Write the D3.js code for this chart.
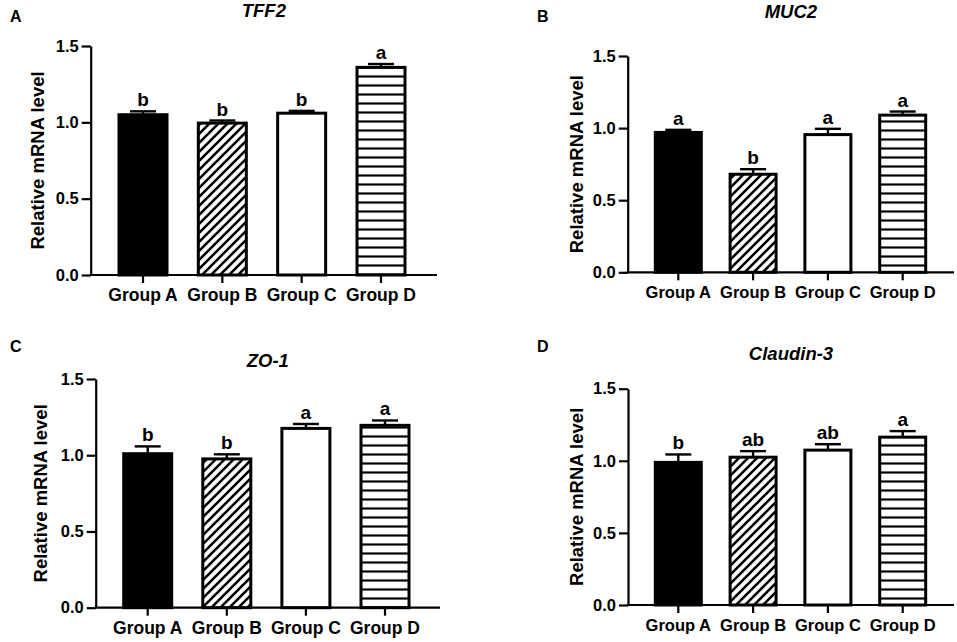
<!DOCTYPE html>
<html>
<head>
<meta charset="utf-8">
<script src="https://cdn.jsdelivr.net/npm/d3@7"></script>
<style>
  body { margin: 0; background: #fff; }
  svg { display: block; font-family: "Liberation Sans", Arial, sans-serif; }
  .tick text { font-weight: bold; fill: #000; }
</style>
</head>
<body>
<svg id="chart" width="957" height="642"></svg>
<script>
// categories and tick values
const groups = ["Group A", "Group B", "Group C", "Group D"];
const yTicks = [0, 0.5, 1.0, 1.5];

// TFF2
const tff2Mean = [1.05, 0.995, 1.06, 1.36];
const tff2Err = [0.022, 0.017, 0.015, 0.022];
const tff2Sig = ["b", "b", "b", "a"];

// MUC2
const muc2Mean = [0.97, 0.68, 0.955, 1.09];
const muc2Err = [0.018, 0.035, 0.04, 0.025];
const muc2Sig = ["a", "b", "a", "a"];

// ZO-1
const zo1Mean = [1.01, 0.976, 1.176, 1.196];
const zo1Err = [0.048, 0.03, 0.029, 0.032];
const zo1Sig = ["b", "b", "a", "a"];

// Claudin-3
const cld3Mean = [0.989, 1.025, 1.074, 1.164];
const cld3Err = [0.055, 0.042, 0.041, 0.042];
const cld3Sig = ["b", "ab", "ab", "a"];

const svg = d3.select("#chart");

// patterns for group B (diagonal) and group D (horizontal stripes)
const defs = svg.append("defs");
defs.append("pattern")
    .attr("id", "diag")
    .attr("patternUnits", "userSpaceOnUse")
    .attr("width", 9).attr("height", 9)
  .append("path")
    .attr("d", "M0,9 L9,0 M-3,3 L3,-3 M6,12 L12,6")
    .attr("stroke", "#000")
    .attr("stroke-width", 2.6);
const hp = defs.append("pattern")
    .attr("id", "hstripe")
    .attr("patternUnits", "userSpaceOnUse")
    .attr("width", 9).attr("height", 9);
hp.append("rect").attr("width", 9).attr("height", 9).attr("fill", "#fff");
hp.append("line")
    .attr("x1", 0).attr("x2", 9).attr("y1", 4.5).attr("y2", 4.5)
    .attr("stroke", "#000").attr("stroke-width", 2.2);

const fills = ["#000", "url(#diag)", "#fff", "url(#hstripe)"];

// panel layouts
const panels = [
  {letter: "A", title: "TFF2", mean: tff2Mean, err: tff2Err, sig: tff2Sig,
   x0: 90.7, x1: 437, yTop: 46, yBot: 275, c0: 143, c3: 381, barW: 51,
   lx: 10, ly: 21.5, ty: 17, yt: 47, fs: 17.5},
  {letter: "B", title: "MUC2", mean: muc2Mean, err: muc2Err, sig: muc2Sig,
   x0: 627.7, x1: 954, yTop: 56, yBot: 272.3, c0: 678.3, c3: 902.7, barW: 49,
   lx: 537, ly: 21.5, ty: 17.5, yt: 45, fs: 16.5},
  {letter: "C", title: "ZO-1", mean: zo1Mean, err: zo1Err, sig: zo1Sig,
   x0: 95.7, x1: 440, yTop: 379, yBot: 607.7, c0: 147.7, c3: 385, barW: 51,
   lx: 10, ly: 352, ty: 367, yt: 49, fs: 17.5},
  {letter: "D", title: "Claudin-3", mean: cld3Mean, err: cld3Err, sig: cld3Sig,
   x0: 628, x1: 954, yTop: 388.7, yBot: 605, c0: 678.3, c3: 902.7, barW: 49,
   lx: 537, ly: 352, ty: 359.5, yt: 45, fs: 16.5}
];

panels.forEach(function(p) {
  const g = svg.append("g");
  const step = (p.c3 - p.c0) / 3;

  const x = d3.scaleBand()
      .domain(groups)
      .range([p.c0 - step / 2, p.c3 + step / 2]);
  const y = d3.scaleLinear()
      .domain([0, 1.5])
      .range([p.yBot, p.yTop]);

  const data = groups.map(function(gr, i) {
    return {group: gr, mean: p.mean[i], err: p.err[i], sig: p.sig[i], fill: fills[i]};
  });

  // bars
  g.selectAll("rect.bar")
    .data(data).enter()
    .append("rect")
      .attr("class", "bar")
      .attr("x", d => x(d.group) + x.bandwidth() / 2 - p.barW / 2 + 1.5)
      .attr("width", p.barW - 3)
      .attr("y", d => y(d.mean))
      .attr("height", d => y(0) - y(d.mean))
      .attr("fill", d => d.fill)
      .attr("stroke", "#000")
      .attr("stroke-width", 3);

  // error bars (upper only)
  const eb = g.selectAll("g.err").data(data).enter().append("g");
  eb.append("line")
      .attr("x1", d => x(d.group) + x.bandwidth() / 2)
      .attr("x2", d => x(d.group) + x.bandwidth() / 2)
      .attr("y1", d => y(d.mean))
      .attr("y2", d => y(d.mean + d.err))
      .attr("stroke", "#000").attr("stroke-width", 2.4);
  eb.append("line")
      .attr("x1", d => x(d.group) + x.bandwidth() / 2 - 13)
      .attr("x2", d => x(d.group) + x.bandwidth() / 2 + 13)
      .attr("y1", d => y(d.mean + d.err))
      .attr("y2", d => y(d.mean + d.err))
      .attr("stroke", "#000").attr("stroke-width", 2.4);

  // significance letters
  g.selectAll("text.sig")
    .data(data).enter()
    .append("text")
      .attr("x", d => x(d.group) + x.bandwidth() / 2)
      .attr("y", d => y(d.mean + d.err) - 5)
      .attr("text-anchor", "middle")
      .attr("font-weight", "bold")
      .attr("font-size", 19)
      .text(d => d.sig);

  // y axis
  const ya = g.append("g")
      .attr("transform", "translate(" + p.x0 + ",0)")
      .call(d3.axisLeft(y).tickValues(yTicks).tickFormat(d3.format(".1f"))
              .tickSize(9).tickPadding(3).tickSizeOuter(0));
  ya.selectAll("text").attr("font-size", 16.5).attr("font-family", "Liberation Sans, Arial, sans-serif");
  ya.selectAll("line").attr("stroke-width", 2.2);
  ya.select(".domain").attr("stroke-width", 2.2);

  // x axis
  const xa = g.append("g")
      .attr("transform", "translate(0," + p.yBot + ")")
      .call(d3.axisBottom(x).tickSize(8).tickPadding(6).tickSizeOuter(0));
  xa.select(".domain").remove();
  xa.selectAll("text").attr("font-size", p.fs).attr("font-family", "Liberation Sans, Arial, sans-serif");
  xa.selectAll("line").attr("stroke-width", 2.2);
  g.append("line")
      .attr("x1", p.x0 - 1).attr("x2", p.x1)
      .attr("y1", p.yBot).attr("y2", p.yBot)
      .attr("stroke", "#000").attr("stroke-width", 2.2);

  // y axis title
  g.append("text")
      .attr("transform", "translate(" + (p.x0 - p.yt) + "," + ((p.yTop + p.yBot) / 2) + ") rotate(-90)")
      .attr("text-anchor", "middle")
      .attr("font-weight", "bold")
      .attr("font-size", 18.5)
      .text("Relative mRNA level");

  // panel title
  g.append("text")
      .attr("x", (p.x0 + p.x1) / 2)
      .attr("y", p.ty)
      .attr("text-anchor", "middle")
      .attr("font-weight", "bold")
      .attr("font-style", "italic")
      .attr("font-size", 18.5)
      .text(p.title);

  // panel letter
  g.append("text")
      .attr("x", p.lx)
      .attr("y", p.ly)
      .attr("font-weight", "bold")
      .attr("font-size", 16)
      .text(p.letter);
});
</script>
</body>
</html>
